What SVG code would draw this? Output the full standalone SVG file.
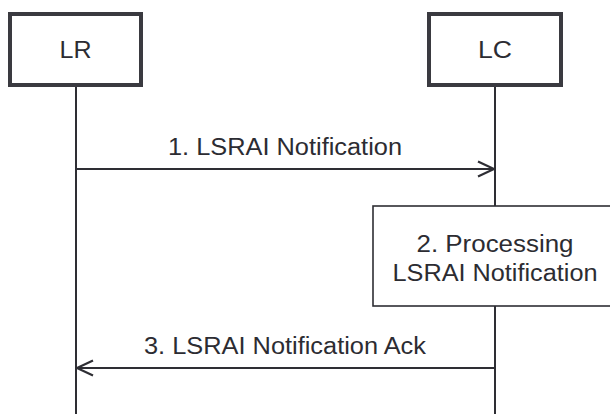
<svg xmlns="http://www.w3.org/2000/svg" width="610" height="414" viewBox="0 0 610 414">
<style>
.hdr{fill:#fff;stroke:#3a3a40;stroke-width:4}
.proc{fill:#fff;stroke:#2e2e34;stroke-width:1.6}
.life{stroke:#2e2e34;stroke-width:2;fill:none}
.msg{stroke:#2e2e34;stroke-width:2.2;fill:none}
text{font-family:"Liberation Sans",Arial,sans-serif;font-size:23px;fill:#2c2c32;text-anchor:middle}
</style>
<defs>
<marker id="ah" markerWidth="20" markerHeight="18" refX="18" refY="9" orient="auto" markerUnits="userSpaceOnUse">
<path d="M2,1.5 L18,9 L2,16.5" fill="none" stroke="#2e2e34" stroke-width="2.2"/>
</marker>
</defs>
<g id="lifelines">
<line class="life" x1="76" y1="86" x2="76" y2="414"/>
<line class="life" x1="495" y1="86" x2="495" y2="414"/>
</g>
<g id="node-LR">
<rect class="hdr" x="10" y="14" width="131" height="71"/>
<text x="75.5" y="58" textLength="32" lengthAdjust="spacingAndGlyphs">LR</text>
</g>
<g id="node-LC">
<rect class="hdr" x="429" y="14" width="132" height="71"/>
<text x="495" y="58" textLength="34" lengthAdjust="spacingAndGlyphs">LC</text>
</g>
<g id="node-proc">
<rect class="proc" x="373" y="206" width="245" height="100"/>
<text x="495" y="252" textLength="157" lengthAdjust="spacingAndGlyphs">2. Processing</text>
<text x="495" y="281" textLength="205" lengthAdjust="spacingAndGlyphs">LSRAI Notification</text>
</g>
<g id="connectors">
<line class="msg" x1="76" y1="169" x2="494" y2="169" marker-end="url(#ah)"/>
<text x="285" y="155" textLength="234" lengthAdjust="spacingAndGlyphs">1. LSRAI Notification</text>
<line class="msg" x1="495" y1="368" x2="77" y2="368" marker-end="url(#ah)"/>
<text x="285" y="354" textLength="282" lengthAdjust="spacingAndGlyphs">3. LSRAI Notification Ack</text>
</g>
</svg>
